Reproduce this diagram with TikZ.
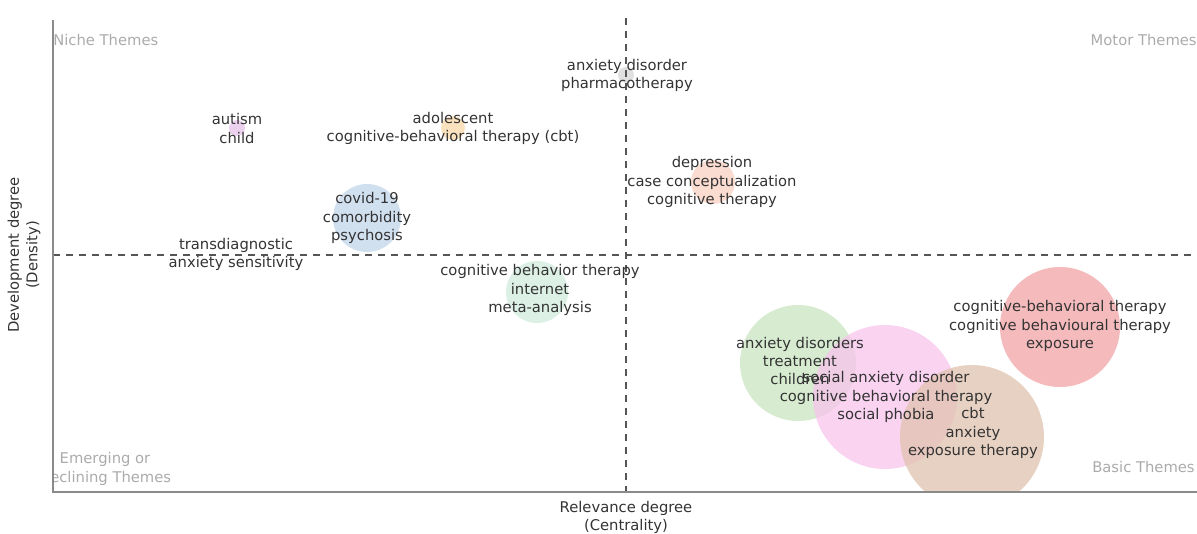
\documentclass[tikz,border=0pt]{standalone}
\usepackage{fontspec}
\setmainfont{DejaVu Sans}
\usetikzlibrary{positioning}
\definecolor{txtgrey}{HTML}{333333}
\definecolor{quadgrey}{HTML}{ABABAB}
\definecolor{axisgrey}{HTML}{8A8A8A}
\definecolor{dashgrey}{HTML}{555555}
\definecolor{bgrey}{HTML}{D6D6D6}
\definecolor{bpurple}{HTML}{E6C2EA}
\definecolor{borange}{HTML}{F8D8A8}
\definecolor{bpeach}{HTML}{F8D0C2}
\definecolor{bblue}{HTML}{C2D5EA}
\definecolor{bteal}{HTML}{D0EBDE}
\definecolor{bgreen}{HTML}{C8E4BF}
\definecolor{bpink}{HTML}{F8C4EC}
\definecolor{bbrown}{HTML}{DFC2AE}
\definecolor{bred}{HTML}{F2A4A6}
\def\plotleft{53}
\def\plotright{1197}
\def\plotbottom{492}
\def\plottop{18}
\def\midx{626}
\def\midy{255}
\tikzset{
    theme/.style={
        align=center,
        text=txtgrey,
        inner sep=0pt,
        font=\fontsize{8.4}{10.5}\selectfont,
    },
    quadrant/.style={
        align=center,
        text=quadgrey,
        inner sep=0pt,
        font=\fontsize{8.4}{10.5}\selectfont,
    },
    axis/.style={
        draw=axisgrey,
        line width=0.9pt,
    },
    divider/.style={
        draw=dashgrey,
        line width=0.8pt,
        dash pattern=on 4pt off 3.4pt,
    },
    bubble/.style={
        fill opacity=0.75,
    },
}

\begin{document}
\begin{tikzpicture}[x=0.02cm, y=-0.02cm]
        \useasboundingbox (0,0) rectangle (1197,534);

        \coordinate (origin) at (\plotleft,\plotbottom);
        \coordinate (ytop) at (\plotleft,20);
        \coordinate (xend) at (\plotright,\plotbottom);
        \coordinate (vtop) at (\midx,\plottop);
        \coordinate (vbot) at (\midx,\plotbottom);
        \coordinate (hleft) at (\plotleft,\midy);
        \coordinate (hright) at (\plotright,\midy);

        \begin{scope}
            \clip (\plotleft,0) rectangle (\plotright,\plotbottom);
            \foreach \cx/\cy/\r/\col in {
                626/75/8/bgrey, 237/128/8/bpurple, 453/128/12/borange,
                713/182/22/bpeach, 367/218/34/bblue, 537/292/31/bteal,
                798/363/58/bgreen, 885/397/72/bpink, 972/437/72/bbrown,
                1060/327/60/bred}{
                \fill [bubble, fill=\col] (\cx,\cy) circle [radius=\r];
            }
            \node (niche) [quadrant, anchor=west] at (\plotleft,40) {Niche Themes};
            \node (emerging) [quadrant] at (105,469) {Emerging or\\Declining Themes};
        \end{scope}
        \node (motor) [quadrant, anchor=east] at (\plotright,40) {Motor Themes};
        \node (basic) [quadrant, anchor=east] at (1195,467) {Basic Themes};

        \draw [divider] (vtop) -- (vbot);
        \draw [divider] (hleft) -- (hright);
        \draw [axis] (ytop) -- (origin) -- (xend);

        \node (anxdis) [theme] at (627,75.5) {anxiety disorder\\pharmacotherapy};
        \node (autism) [theme] at (237,128.5) {autism\\child};
        \node (adol) [theme] at (453,128.5) {adolescent\\cognitive-behavioral therapy (cbt)};
        \node (depr) [theme] at (712,182) {depression\\case conceptualization\\cognitive therapy};
        \node (covid) [theme] at (367,218) {covid-19\\comorbidity\\psychosis};
        \node (transd) [theme] at (236,254.5) {transdiagnostic\\anxiety sensitivity};
        \node (cbtnet) [theme] at (540,290) {cognitive behavior therapy\\internet\\meta-analysis};
        \node (anxdisord) [theme] at (800,361) {anxiety disorders\\treatment\\children};
        \node (social) [theme] at (886,397) {social anxiety disorder\\cognitive behavioral therapy\\social phobia};
        \node (cbt) [theme] at (973,433) {cbt\\anxiety\\exposure therapy};
        \node (cogbeh) [theme] at (1060,326) {cognitive-behavioral therapy\\cognitive behavioural therapy\\exposure};

        \node (ytitle) [theme, rotate=90, left=7pt of origin |- hleft, anchor=south] {Development degree\\(Density)};
        \node (xtitle) [theme, below=5pt of vbot] {Relevance degree\\(Centrality)};

    \end{tikzpicture}
\end{document}
